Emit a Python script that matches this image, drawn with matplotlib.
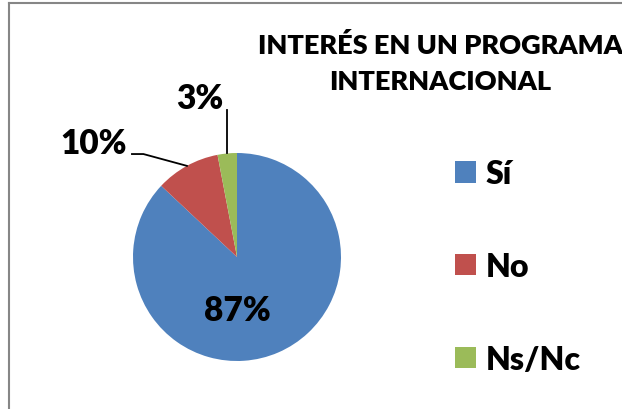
import matplotlib.pyplot as plt
from matplotlib.lines import Line2D
import numpy as np

# Data
categories = ['Sí', 'No', 'Ns/Nc']
values = [87, 10, 3]
labels = ['87%', '10%', '3%']
colors = ['#4F81BD', '#C0504D', '#9BBB59']

plt.rcParams['font.family'] = ['Lato', 'DejaVu Sans']
plt.rcParams['font.weight'] = 'heavy'

fig = plt.figure(figsize=(6.22, 4.10), dpi=100)
W, H = 622, 410

# Chart border (cut off at right and bottom)
border = '#868686'
fig.add_artist(Line2D([9 / W, 9 / W], [0, 1 - 4 / H], color=border, lw=1.5))
fig.add_artist(Line2D([9 / W, 1], [1 - 4 / H, 1 - 4 / H], color=border, lw=1.5))

# Pie axes: centre (237, 258) px, radius 104 px
cx, cy, r = 237, 258, 104
ax = fig.add_axes([(cx - r) / W, (H - cy - r) / H, 2 * r / W, 2 * r / H])
wedges, _ = ax.pie(values, colors=colors, startangle=90, counterclock=False,
                   wedgeprops={'linewidth': 0})
ax.set_xlim(-1, 1)
ax.set_ylim(-1, 1)
ax.set_axis_off()

fs = 24
# 87% inside
ax.text(0, -0.51, labels[0], ha='center', va='center', fontsize=fs, fontweight='heavy')

# 10% with bent leader line
w = wedges[1]
mid = np.deg2rad((w.theta1 + w.theta2) / 2)
ex, ey = np.cos(mid), np.sin(mid)
ax.plot([ex, -0.90, -1.01], [ey, 0.99, 0.99], color='black', lw=1.3, clip_on=False)
ax.text(-1.375, 1.10, labels[1], ha='center', va='center', fontsize=fs, fontweight='heavy')

# 3% with vertical leader line
w = wedges[2]
mid = np.deg2rad((w.theta1 + w.theta2) / 2)
ex, ey = np.cos(mid), np.sin(mid)
ax.plot([ex, ex], [ey, 1.41], color='black', lw=1.3, clip_on=False)
ax.text(-0.36, 1.53, labels[2], ha='center', va='center', fontsize=fs, fontweight='heavy')

# Title (cut at the right edge, as in the original)
fig.text(440 / W, 1 - 64 / H, 'INTERÉS EN UN PROGRAMA\nINTERNACIONAL', ha='center', va='center',
         fontsize=19.5, fontweight='heavy', linespacing=1.6)

# Legend
fig.legend(wedges, categories, loc='upper left', bbox_to_anchor=(455 / W, 1 - 160 / H),
           frameon=False, borderpad=0, borderaxespad=0, handlelength=0.66, handleheight=0.66,
           handletextpad=0.31, labelspacing=2.0, prop={'weight': 'heavy', 'size': 23})

fig.savefig('out.png', dpi=100)
